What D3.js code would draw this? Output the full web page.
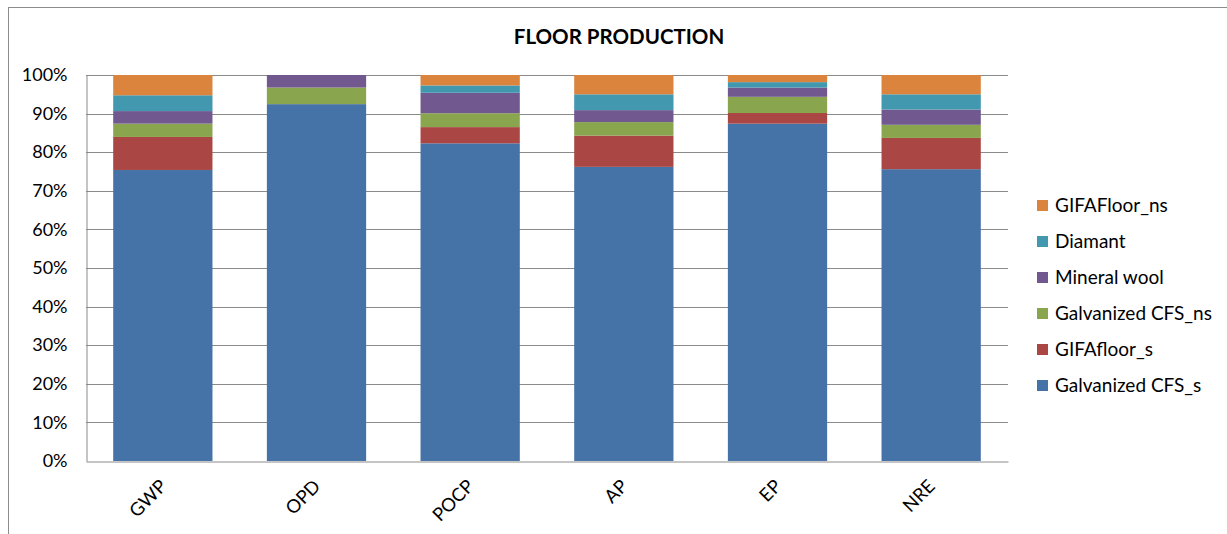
<!DOCTYPE html>
<html>
<head>
<meta charset="utf-8">
<script src="https://cdn.jsdelivr.net/npm/d3@7"></script>
<style>
  html, body { margin: 0; padding: 0; background: #fff; }
  svg { display: block; }
  text { font-family: Lato, "Open Sans", sans-serif; fill: #000; }
</style>
</head>
<body>
<svg id="chart" width="1227" height="534"></svg>
<script>
const categories = ["GWP", "OPD", "POCP", "AP", "EP", "NRE"];
const seriesNames = ["Galvanized CFS_s", "GIFAfloor_s", "Galvanized CFS_ns", "Mineral wool", "Diamant", "GIFAFloor_ns"];
const galvanizedCFS_s  = [75.4, 92.45, 82.3, 76.2, 87.4, 75.6];
const gifaFloor_s      = [8.55, 0, 4.2, 8.1, 2.75, 8.1];
const galvanizedCFS_ns = [3.45, 4.3, 3.6, 3.5, 4.2, 3.4];
const mineralWool      = [3.25, 3.25, 5.3, 3.1, 2.4, 3.95];
const diamant          = [4.1, 0, 1.9, 4.1, 1.4, 3.95];
const gifaFloor_ns     = [5.25, 0, 2.7, 5.0, 1.85, 5.0];
const colors = ["#4572A7", "#AA4643", "#89A54E", "#71588F", "#4198AF", "#DB843D"];
const yTicks = [0, 0.1, 0.2, 0.3, 0.4, 0.5, 0.6, 0.7, 0.8, 0.9, 1.0];
const title = "FLOOR PRODUCTION";

const seriesValues = [galvanizedCFS_s, gifaFloor_s, galvanizedCFS_ns, mineralWool, diamant, gifaFloor_ns];
const rows = categories.map((c, i) => {
  const r = { cat: c };
  let total = 0;
  seriesValues.forEach(v => total += v[i]);
  seriesNames.forEach((s, k) => r[s] = seriesValues[k][i] / total);
  return r;
});

const svg = d3.select("#chart");
const W = 1227, H = 534;
const m = { left: 86, right: W - 1008, top: 75, bottom: H - 461 };

// outer chart border (top & left visible)
svg.append("rect").attr("x", 8.5).attr("y", 7.5).attr("width", 1240).attr("height", 560)
  .attr("fill", "none").attr("stroke", "#8c8c8c").attr("stroke-width", 1);

const x = d3.scaleBand().domain(categories).range([m.left, W - m.right])
  .paddingInner(0.354).paddingOuter(0.177);
const y = d3.scaleLinear().domain([0, 1]).range([H - m.bottom, m.top]);

// gridlines
svg.append("g").selectAll("line").data(yTicks.filter(t => t > 0)).join("line")
  .attr("x1", m.left).attr("x2", W - m.right)
  .attr("y1", d => Math.round(y(d)) + 0.5).attr("y2", d => Math.round(y(d)) + 0.5)
  .attr("stroke", "#8a8a8a").attr("stroke-width", 1);

const stack = d3.stack().keys(seriesNames)(rows);
svg.append("g").selectAll("g").data(stack).join("g")
  .attr("fill", (d, i) => colors[i])
  .selectAll("rect").data(d => d).join("rect")
  .attr("x", d => x(d.data.cat))
  .attr("width", x.bandwidth())
  .attr("y", d => y(d[1]))
  .attr("height", d => Math.max(0, y(d[0]) - y(d[1])));

// y axis
const yAxis = d3.axisLeft(y).tickValues(yTicks).tickFormat(d3.format(".0%")).tickSize(0).tickPadding(19);
const ya = svg.append("g").attr("transform", `translate(${m.left + 0.5},0)`).call(yAxis);
ya.select(".domain").attr("stroke", "#8a8a8a");
ya.selectAll("text").attr("font-size", 18).style("font-family", "Lato, sans-serif").attr("fill", "#000");

// x axis
const xAxis = d3.axisBottom(x).tickSize(0).tickPadding(0);
const xa = svg.append("g").attr("transform", `translate(0,${H - m.bottom + 0.5})`).call(xAxis);
xa.select(".domain").attr("stroke", "#8a8a8a");
xa.selectAll("text")
  .attr("font-size", 18.5).style("font-family", "Lato, sans-serif").attr("fill", "#000")
  .attr("text-anchor", "end").attr("dy", null).attr("y", 0)
  .attr("transform", "translate(5,26) rotate(-45)");

// title
svg.append("text").attr("x", 619).attr("y", 44).attr("text-anchor", "middle")
  .attr("font-size", 20.5).attr("font-weight", "bold").text(title);

// legend (reverse order)
const legendItems = seriesNames.map((s, i) => ({ s, c: colors[i] })).reverse();
const lg = svg.append("g").selectAll("g").data(legendItems).join("g")
  .attr("transform", (d, i) => `translate(1037,${205 + i * 36})`);
lg.append("rect").attr("x", 0).attr("y", -5).attr("width", 11).attr("height", 11).attr("fill", d => d.c);
lg.append("text").attr("x", 18).attr("y", 0).attr("dy", "0.35em").attr("font-size", 19).text(d => d.s);
</script>
</body>
</html>
